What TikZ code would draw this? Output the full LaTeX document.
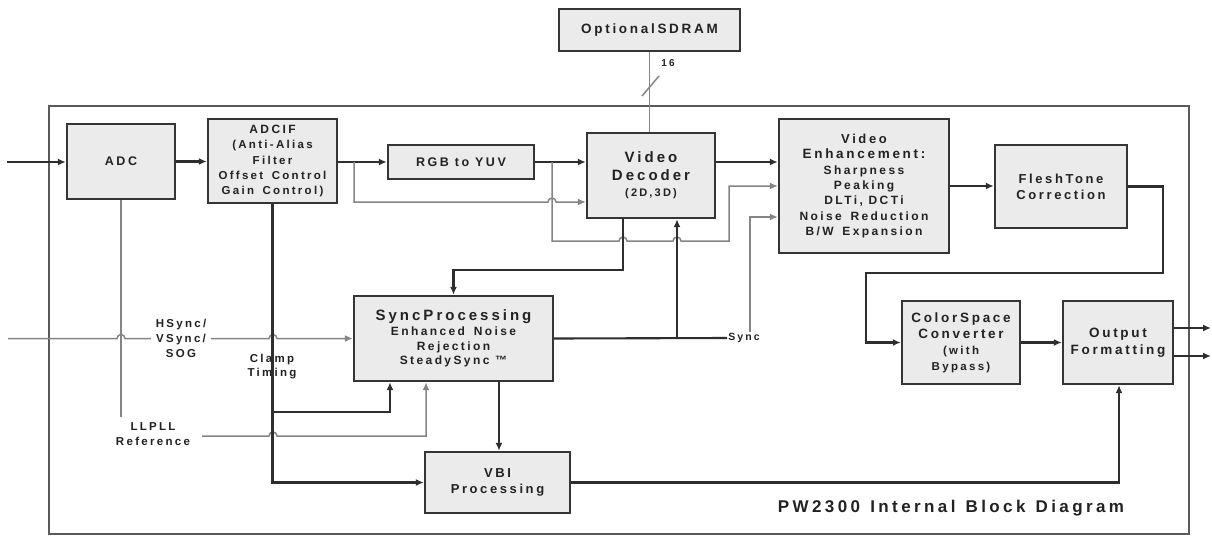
\documentclass[tikz,border=0pt]{standalone}
\usepackage{fontspec}
\setmainfont{Liberation Sans}[LetterSpace=20]
\usetikzlibrary{arrows.meta,calc}
\definecolor{boxfill}{HTML}{EBEBEB}
\definecolor{boxline}{HTML}{353535}
\definecolor{ink}{HTML}{222222}
\definecolor{wire}{HTML}{2E2E2E}
\definecolor{thinwire}{HTML}{858585}
\definecolor{framec}{HTML}{5A5A5A}
\newcommand\setfs[2]{\fontsize{#1}{#2}\selectfont\bfseries}
\begin{document}
\begin{tikzpicture}[x=1pt,y=-1pt,
  blk/.style={draw=boxline,fill=boxfill,line width=2.4pt,inner sep=0pt,align=center,text=ink},
  main/.style={draw=wire,line width=2.1pt},
  thinw/.style={draw=thinwire,line width=1.5pt},
  tip/.style={-{Latex[length=8pt,width=7pt]}},
  lbl/.style={text=ink,align=center,inner sep=1pt},
  ]
\useasboundingbox (0,0) rectangle (1212,536);
\fill[white] (0,0) rectangle (1212,536);
% outer frame
\node[draw=framec,line width=2pt,minimum width=1140,minimum height=428,inner sep=0pt] (frame) at (619,320) {};

% blocks
\node[blk,minimum width=181,minimum height=42,font=\setfs{13.5}{16}] (sdram) at (649.5,30) {OptionalSDRAM};
\node[blk,minimum width=108,minimum height=75,font=\setfs{12.5}{15}] (adc) at (121,161.5) {ADC};
\node[blk,minimum width=129,minimum height=84,font=\setfs{11.5}{15.2}] (adcif) at (272.5,161)
  {{\setfs{12}{15.2}ADCIF}\\(Anti-Alias\\Filter\\Offset\hspace{3pt} Control\\Gain\hspace{3pt} Control)};
\node[blk,minimum width=146,minimum height=34,font=\setfs{12.5}{15}] (rgb) at (461,162) {RGB to YUV};
\node[blk,minimum width=128,minimum height=85,font=\setfs{11}{16}] (vd) at (651,175.5)
  {{\setfs{15}{18}Video}\\[2pt]{\setfs{15}{18}Decoder}\\(2D,3D)};
\node[blk,minimum width=170,minimum height=134,font=\setfs{12}{15.3}] (ve) at (864,186)
  {{\setfs{13}{15.3}Video}\\{\setfs{13.5}{15.3}Enhancement:}\\Sharpness\\Peaking\\DLTi, DCTi\\Noise\hspace{3pt} Reduction\\B/W\hspace{3pt} Expansion};
\node[blk,minimum width=132,minimum height=83,font=\setfs{13}{16}] (ft) at (1061,186.5) {FleshTone\\Correction};
\node[blk,minimum width=199,minimum height=85,font=\setfs{12}{14.5}] (sp) at (453.5,338.5)
  {{\setfs{15}{17}SyncProcessing}\\[1pt]Enhanced\hspace{3pt} Noise\\Rejection\\SteadySync \texttrademark};
\node[blk,minimum width=145,minimum height=61,font=\setfs{13}{16}] (vbi) at (497.5,482.5) {VBI\\Processing};
\node[blk,minimum width=118,minimum height=83,font=\setfs{11.5}{16}] (cs) at (961,342.5)
  {{\setfs{13.5}{16}ColorSpace}\\{\setfs{13.5}{16}Converter}\\(with\\Bypass)};
\node[blk,minimum width=110,minimum height=83,font=\setfs{13.5}{17}] (of) at (1118,342.5) {Output\\Formatting};

% labels
\node[lbl,font=\setfs{11.5}{15}] (ll) at (153,434.5) {LLPLL\\Reference};
\node[lbl,font=\setfs{11.5}{14}] (clamp) at (272,367) {Clamp\\Timing};
\node[lbl,font=\setfs{10.5}{12}] (sync) at (744,338) {Sync};
\node[lbl,font=\setfs{10}{12}] (n16) at (668,63) {16};
\node[text=ink,font=\setfs{17}{20}] (title) at (951,508) {PW2300\hspace{2pt} Internal\hspace{2pt} Block\hspace{2pt} Diagram};

% coordinates
\coordinate (inL) at (7,162);
\coordinate (hsL) at (8,338.5);
\coordinate (hsPos) at (181,338);
\coordinate (adcEnd) at (121,417);
\coordinate (llS) at (202,436);
\coordinate (o1) at (1211,328);
\coordinate (o2) at (1211,356);

% main signal chain
\draw[main,tip] (inL) -- (inL -| adc.west);
\draw[main,tip] (adc.east) -- (adc.east -| adcif.west);
\draw[main,tip] (adcif.east |- rgb.west) -- (rgb.west);
\draw[main,tip] (rgb.east) -- (rgb.east -| vd.west);
\draw[main,tip] (vd.east |- 0,162) -- (ve.west |- 0,162);
\draw[main,tip] (ve.east) -- (ve.east -| ft.west);
\draw[main,tip] (ft.east) -- (1163,186.5) -- (1163,273) -- (866,273) -- (866,342.5) -- (cs.west);
\draw[main,tip] (cs.east) -- (of.west);
\draw[main,tip] (of.east |- o1) -- (o1);
\draw[main,tip] (of.east |- o2) -- (o2);

% bypass paths
\draw[thinw,tip] (354,162) -- (354,202) -- (548,202) arc[start angle=180,end angle=360,radius=4] -- (vd.west |- 0,202);
\draw[thinw,tip] (552,162) -- (552,241) -- (619,241) arc[start angle=180,end angle=360,radius=4]
  -- (673,241) arc[start angle=180,end angle=360,radius=4] -- (729,241) -- (729,186) -- (ve.west |- 0,186);

% SDRAM bus
\draw[thinw] (sdram.south) -- (sdram.south |- vd.north);
\draw[thinw] (642,96) -- (659,76);

% sync inputs
\draw[thinw,tip] (hsL) -- (117,338.5) arc[start angle=180,end angle=360,radius=4]
  -- (269,338.5) arc[start angle=180,end angle=360,radius=4] -- (sp.west);
\node[lbl,fill=white,inner xsep=5pt,font=\setfs{11.5}{15}] (hs) at (hsPos) {HSync/\\VSync/\\SOG};
\draw[thinw] (adc.south) -- (adcEnd);
\draw[thinw,tip] (llS) -- (269,436) arc[start angle=180,end angle=360,radius=4] -- (426,436) -- (sp.south -| 426,0);

% clamp timing
\draw[main,tip] (adcif.south) -- (adcif.south |- vbi.west) -- (vbi.west);
\draw[main,tip] (272.5,412) -- (390,412) -- (sp.south -| 390,0);

% decoder to sync processing
\draw[main,tip] (vd.south -| 623,0) -- (623,270) -- (453.5,270) -- (sp.north);

% sync out
\draw[main] (sp.east) -- (sync.west);
\draw[main,line width=2.7pt,tip] (677,338.5) -- (vd.south -| 677,0);
\draw[thinw,tip] (sync.north -| 750,0) -- (750,217) -- (ve.west |- 0,217);

% sync to VBI, VBI to output
\draw[main,line width=2.7pt,tip] (sp.south -| 499,0) -- (vbi.north -| 499,0);
\draw[main,tip] (vbi.east) -- (1119,482.5) -- (of.south -| 1119,0);
\end{tikzpicture}
\end{document}
